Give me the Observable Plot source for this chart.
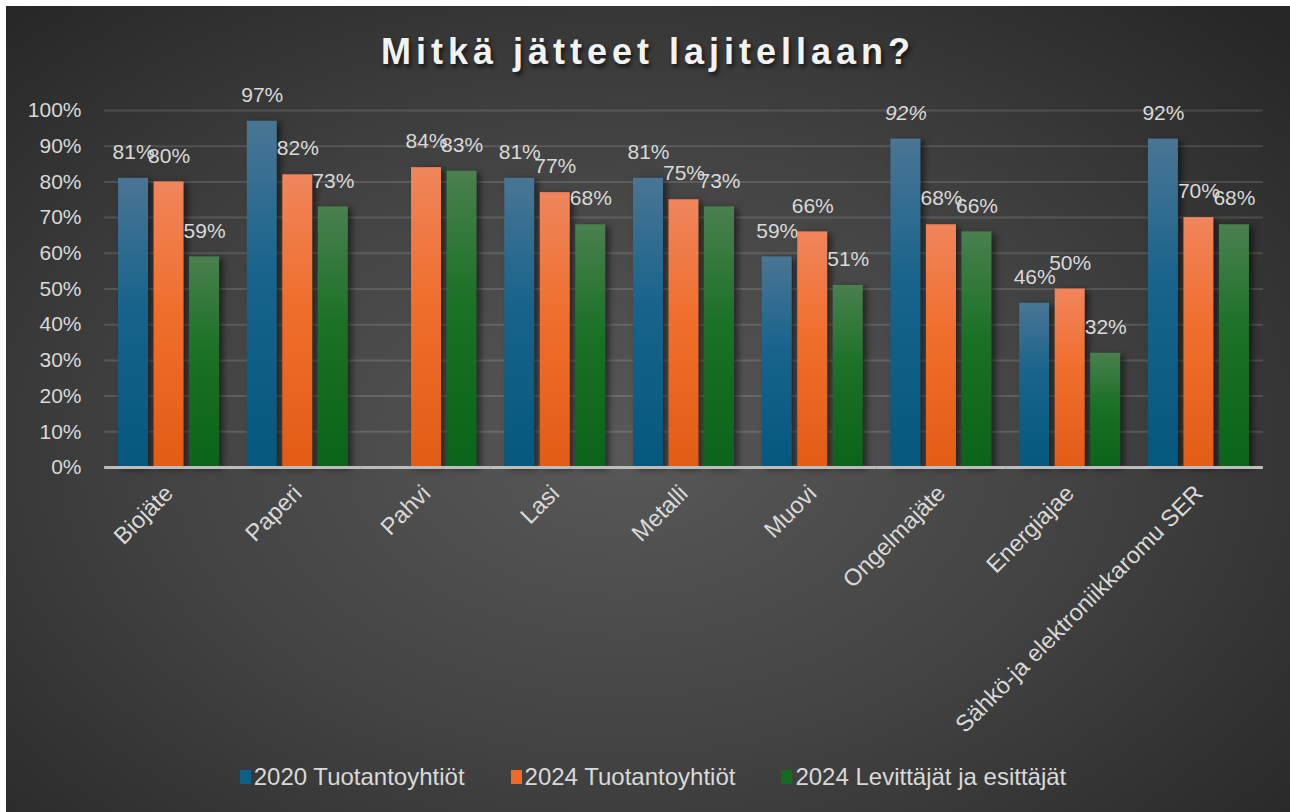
<!DOCTYPE html>
<html><head><meta charset="utf-8">
<script src="https://cdn.jsdelivr.net/npm/d3@7"></script>
<script src="https://cdn.jsdelivr.net/npm/@observablehq/plot@0.6"></script>
<style>
body{margin:0;background:#fff;width:1290px;height:812px;overflow:hidden;font-family:"Liberation Sans",Arial,sans-serif}
#card{position:absolute;left:6px;top:6px;width:1284px;height:806px;background:radial-gradient(ellipse 70% 75% at 48% 55%, #585858 0%, #434343 50%, #272727 100%);overflow:hidden}
#title{position:absolute;left:0;width:100%;top:24px;text-align:center;font-weight:bold;font-size:36px;letter-spacing:5px;color:#f2f2f2;text-shadow:2px 3px 4px rgba(0,0,0,.65);line-height:44px}
#chart{position:absolute;left:0;top:0}
#legend{position:absolute;left:10px;width:1274px;top:757px;display:flex;justify-content:center;gap:46px;color:#d9d9d9;font-size:24px;line-height:28px}
.item{display:flex;align-items:center;gap:3px}
.sw{width:11px;height:14px;display:inline-block}
</style></head>
<body>
<svg width="0" height="0" style="position:absolute">
  <defs>
    <linearGradient id="g0" x1="0" y1="0" x2="0" y2="1">
      <stop offset="0" stop-color="#4a7595"/><stop offset="0.45" stop-color="#17638c"/><stop offset="1" stop-color="#05587e"/>
    </linearGradient>
    <linearGradient id="g1" x1="0" y1="0" x2="0" y2="1">
      <stop offset="0" stop-color="#f0855c"/><stop offset="0.45" stop-color="#f06e2c"/><stop offset="1" stop-color="#e25c15"/>
    </linearGradient>
    <linearGradient id="g2" x1="0" y1="0" x2="0" y2="1">
      <stop offset="0" stop-color="#4a804f"/><stop offset="0.45" stop-color="#1b7126"/><stop offset="1" stop-color="#0b6419"/>
    </linearGradient>
  </defs>
</svg>
<div id="card">
  <div id="chart"></div>
  <div id="title"></div>
  <div id="legend"></div>
</div>
<script>
const title = "Mitkä jätteet lajitellaan?";
const categories = ["Biojäte","Paperi","Pahvi","Lasi","Metalli","Muovi","Ongelmajäte","Energiajae","Sähkö-ja elektroniikkaromu SER"];
const series = ["2020 Tuotantoyhtiöt","2024 Tuotantoyhtiöt","2024 Levittäjät ja esittäjät"];
const values2020 = [81, 97, null, 81, 81, 59, 92, 46, 92];
const values2024 = [80, 82, 84, 77, 75, 66, 68, 50, 70];
const valuesLevittajat = [59, 73, 83, 68, 73, 51, 66, 32, 68];
const yTicks = [0,10,20,30,40,50,60,70,80,90,100];
const italicLabels = ["Ongelmajäte|2020 Tuotantoyhtiöt"];

const seriesValues = [values2020, values2024, valuesLevittajat];
const fills = ["url(#g0)","url(#g1)","url(#g2)"];
const swatchColors = ["#0f5f87","#ee6a27","#136d20"];

const data = categories.flatMap((c, i) =>
  series.map((s, j) => ({category: c, series: s, value: seriesValues[j][i]}))
).filter(d => d.value != null);
const isItalic = d => italicLabels.includes(d.category + "|" + d.series);

document.getElementById("title").textContent = title;

const chart = Plot.plot({
  width: 1284,
  height: 750,
  marginTop: 104,
  marginBottom: 289,
  marginLeft: 98,
  marginRight: 27,
  style: {background: "transparent", fontFamily: "'Liberation Sans', Arial, sans-serif", fontSize: "21px", color: "#d9d9d9"},
  fx: {domain: categories, paddingInner: 0.215, paddingOuter: 0.109, round: false, label: null},
  x: {domain: series, paddingInner: 0.155, paddingOuter: 0, round: false, axis: null},
  y: {domain: [0, 100], label: null, ticks: yTicks, tickFormat: d => d + "%", tickSize: 0, tickPadding: 37},
  color: {domain: series, range: fills},
  marks: [
    Plot.axisFx({anchor: "bottom", tickRotate: -45, tickSize: 0, tickPadding: 22, fontSize: 23.5, label: null}),
    Plot.ruleY(yTicks.filter(t => t > 0), {stroke: "#ffffff", strokeOpacity: 0.13, strokeWidth: 2, insetLeft: -13.9, insetRight: -13.9}),
    Plot.barY(data, {fx: "category", x: "series", y: "value", fill: "series", imageFilter: "drop-shadow(4px 2px 3px rgba(0,0,0,0.5))"}),
    Plot.ruleY([0], {stroke: "#bdbdbd", strokeWidth: 3, insetLeft: -13.9, insetRight: -13.9}),
    Plot.text(data.filter(d => !isItalic(d)), {fx: "category", x: "series", y: "value", text: d => d.value + "%", dy: -26, fill: "#d9d9d9", fontSize: 21}),
    Plot.text(data.filter(isItalic), {fx: "category", x: "series", y: "value", text: d => d.value + "%", dy: -26, fill: "#d9d9d9", fontSize: 21, fontStyle: "italic"})
  ]
});
document.getElementById("chart").appendChild(chart);

const legend = d3.select("#legend");
series.forEach((s, j) => {
  const item = legend.append("div").attr("class", "item");
  item.append("span").attr("class", "sw").style("background", `linear-gradient(${swatchColors[j]}, ${swatchColors[j]})`);
  item.append("span").text(s);
});
</script>
</body></html>
